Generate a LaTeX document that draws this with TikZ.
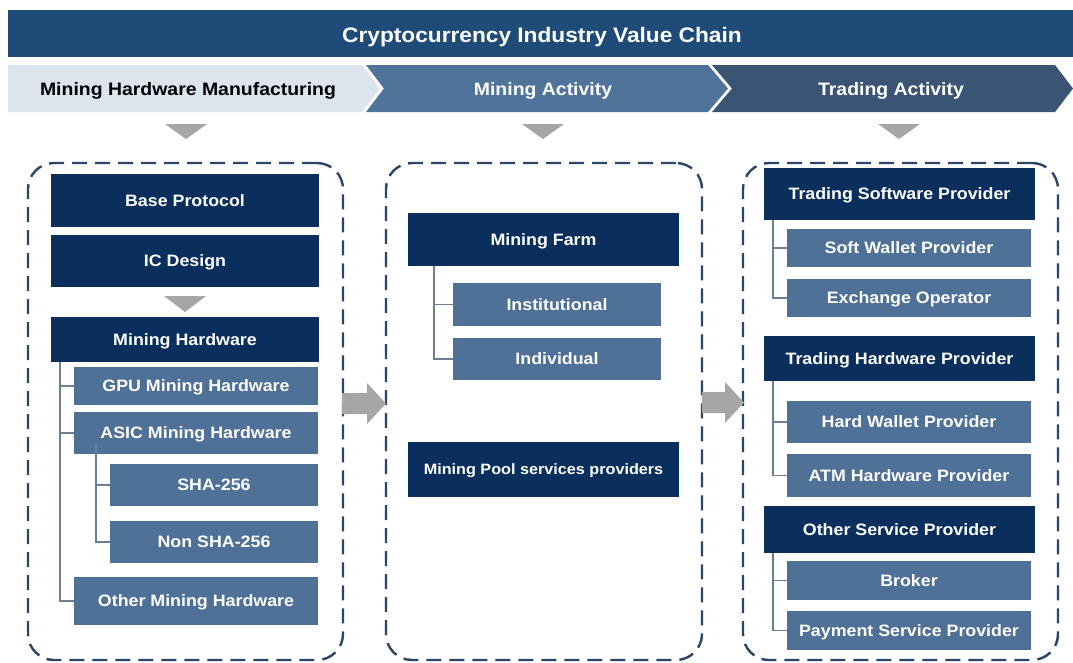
\documentclass[tikz,border=0pt]{standalone}
\usepackage{fontspec}
\setmainfont{Liberation Sans}[FakeStretch=1.08]
\definecolor{titleblue}{HTML}{1E4B78}
\definecolor{chevA}{HTML}{DCE4EE}
\definecolor{chevB}{HTML}{50739A}
\definecolor{chevC}{HTML}{3A5573}
\definecolor{navy}{HTML}{0B2F5C}
\definecolor{midblue}{HTML}{4F7097}
\definecolor{treeline}{HTML}{6A7F96}
\definecolor{dashcol}{HTML}{2A4566}
\definecolor{arrowgray}{HTML}{A6A6A6}
\begin{document}
\begin{tikzpicture}[x=1pt,y=-1pt,
  navybox/.style={fill=navy, text=white, inner sep=0pt, font=\bfseries\fontsize{16.5}{18}\selectfont, text height=11.8pt, text depth=0pt},
  subbox/.style={fill=midblue, text=white, inner sep=0pt, font=\bfseries\fontsize{16.5}{18}\selectfont, text height=11.8pt, text depth=0pt},
  dashbox/.style={draw=dashcol, line width=2.4pt, dash pattern=on 15pt off 8pt, rounded corners=26pt, inner sep=0pt},
  tree/.style={draw=treeline, line width=1.4pt},
  chevtext/.style={inner sep=0pt, font=\bfseries\fontsize{18}{20}\selectfont, text height=12.9pt, text depth=0pt},
  tri/.style={fill=arrowgray},
]
\useasboundingbox (0,0) rectangle (1073,662);
\fill[white] (0,0) rectangle (1073,662);

% title bar
\fill[titleblue] (8,10) rectangle (1073,57);
\node[inner sep=0pt, text=white, font=\bfseries\fontsize{21}{23}\selectfont, text height=15pt, text depth=0pt] (title) at (542,34.5) {Cryptocurrency Industry Value Chain};

% chevrons
\fill[chevA] (8,65) -- (362,65) -- (380,88.5) -- (362,112) -- (8,112) -- cycle;
\fill[chevB] (366,65) -- (708,65) -- (728,88.5) -- (708,112) -- (366,112) -- (384,88.5) -- cycle;
\fill[chevC] (712,65) -- (1055,65) -- (1073,88.5) -- (1055,112) -- (712,112) -- (732,88.5) -- cycle;
\node[chevtext, text=black] (s1) at (188,89) {Mining Hardware Manufacturing};
\node[chevtext, text=white] (s2) at (543,89) {Mining Activity};
\node[chevtext, text=white] (s3) at (891,89) {Trading Activity};

% down triangles
\fill[tri] (165,124) -- (207,124) -- (186,139) -- cycle;
\fill[tri] (522,124) -- (564,124) -- (543,139) -- cycle;
\fill[tri] (878,124) -- (920,124) -- (899,139) -- cycle;

% dashed containers
\node[dashbox, minimum width=315pt, minimum height=497pt] (c1) at (185.5,411.5) {};
\node[dashbox, minimum width=316pt, minimum height=497pt] (c2) at (544,411.5) {};
\node[dashbox, minimum width=315pt, minimum height=497pt] (c3) at (900.5,411.5) {};

% block arrows between containers
\fill[arrowgray] (342,393) -- (367,393) -- (367,383) -- (386,403.5) -- (367,424) -- (367,414) -- (342,414) -- cycle;
\fill[arrowgray] (702,392) -- (725,392) -- (725,382) -- (744,402.5) -- (725,423) -- (725,413) -- (702,413) -- cycle;

% left column
\node[navybox, minimum width=268pt, minimum height=53pt] (bp) at (185,200.5) {Base Protocol};
\node[navybox, minimum width=268pt, minimum height=52pt] (icd) at (185,261) {IC Design};
\fill[tri] (164,296) -- (206,296) -- (185,312) -- cycle;
\node[navybox, minimum width=268pt, minimum height=45pt] (mh) at (185,339.5) {Mining Hardware};
\node[subbox, minimum width=244pt, minimum height=38pt] (gpu) at (196,386) {GPU Mining Hardware};
\node[subbox, minimum width=244pt, minimum height=42pt] (asic) at (196,433) {ASIC Mining Hardware};
\node[subbox, minimum width=208pt, minimum height=42pt] (sha) at (214,485) {SHA-256};
\node[subbox, minimum width=208pt, minimum height=42pt] (nsha) at (214,542) {Non SHA-256};
\node[subbox, minimum width=244pt, minimum height=48pt] (omh) at (196,601) {Other Mining Hardware};
\draw[tree] ([xshift=9pt]mh.south west) |- (gpu.west);
\draw[tree] ([xshift=9pt]mh.south west) |- (asic.west);
\draw[tree] ([xshift=9pt]mh.south west) |- (omh.west);
\draw[tree] ([xshift=22pt,yshift=10pt]asic.south west) |- (sha.west);
\draw[tree] ([xshift=22pt,yshift=10pt]asic.south west) |- (nsha.west);

% middle column
\node[navybox, minimum width=271pt, minimum height=53pt] (mf) at (543.5,239.5) {Mining Farm};
\node[subbox, minimum width=208pt, minimum height=43pt] (inst) at (557,304.5) {Institutional};
\node[subbox, minimum width=208pt, minimum height=42pt] (ind) at (557,359) {Individual};
\node[navybox, minimum width=271pt, minimum height=55pt, font=\bfseries\fontsize{15}{17}\selectfont, text height=10.7pt] (mpool) at (543.5,469.5) {Mining Pool services providers};
\draw[tree] ([xshift=26pt]mf.south west) |- (inst.west);
\draw[tree] ([xshift=26pt]mf.south west) |- (ind.west);

% right column
\node[navybox, minimum width=271pt, minimum height=52pt] (tsp) at (899.5,194) {Trading Software Provider};
\node[subbox, minimum width=244pt, minimum height=38pt] (swp) at (909,248) {Soft Wallet Provider};
\node[subbox, minimum width=244pt, minimum height=38pt] (exo) at (909,298) {Exchange Operator};
\node[navybox, minimum width=271pt, minimum height=45pt] (thp) at (899.5,358.5) {Trading Hardware Provider};
\node[subbox, minimum width=244pt, minimum height=42pt] (hwp) at (909,422) {Hard Wallet Provider};
\node[subbox, minimum width=244pt, minimum height=43pt] (atm) at (909,475.5) {ATM Hardware Provider};
\node[navybox, minimum width=271pt, minimum height=47pt] (osp) at (899.5,529.5) {Other Service Provider};
\node[subbox, minimum width=244pt, minimum height=39pt] (brk) at (909,580.5) {Broker};
\node[subbox, minimum width=244pt, minimum height=39pt] (psp) at (909,630.5) {Payment Service Provider};
\draw[tree] ([xshift=9pt]tsp.south west) |- (swp.west);
\draw[tree] ([xshift=9pt]tsp.south west) |- (exo.west);
\draw[tree] ([xshift=9pt]thp.south west) |- (hwp.west);
\draw[tree] ([xshift=9pt]thp.south west) |- (atm.west);
\draw[tree] ([xshift=9pt]osp.south west) |- (brk.west);
\draw[tree] ([xshift=9pt]osp.south west) |- (psp.west);
\end{tikzpicture}
\end{document}
